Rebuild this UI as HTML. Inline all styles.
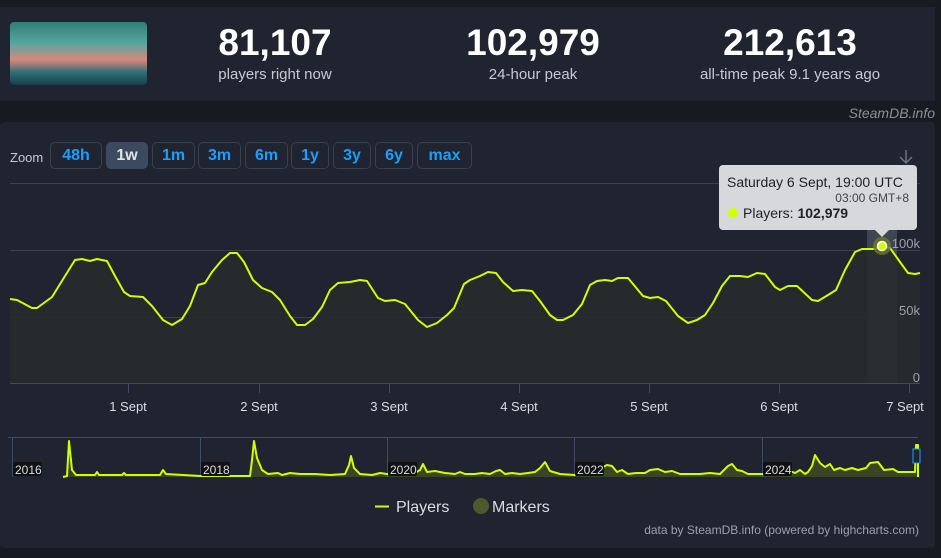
<!DOCTYPE html>
<html><head><meta charset="utf-8"><style>
body{margin:0;width:941px;height:558px;background:#171a21;font-family:"Liberation Sans",sans-serif;overflow:hidden;position:relative}
.p1{position:absolute;left:0;top:7px;width:935px;height:94px;background:#1f2430}
.img{position:absolute;left:10px;top:22px;width:137px;height:63px;border-radius:4px;background:linear-gradient(180deg,#2e7f78 0%,#5aa7a0 35%,#d9877a 60%,#2d6e77 80%,#1b3c4a 100%)}
.stat{position:absolute;top:22px;text-align:center;color:#fff}
.stat b{display:block;font-size:37px;font-weight:bold;letter-spacing:0}
.stat span{display:block;font-size:15px;color:#c6cad3;margin-top:2px}
.sdb{position:absolute;right:6px;top:105px;color:#8a919c;font-style:italic;font-size:14px}
.p2{position:absolute;left:0;top:122px;width:935px;height:426px;background:#1f2430;border-radius:4px}
.zoom{position:absolute;left:10px;top:150px;color:#c6cad3;font-size:13px}
.btn{position:absolute;top:142px;height:27px;border:1px solid #36404f;border-radius:5px;box-sizing:border-box;color:#1a9fff;font-weight:bold;font-size:16px;text-align:center;line-height:25px}
</style></head><body>
<div class="p1"></div>
<div class="img"></div>
<div class="stat" style="left:175px;width:200px"><b>81,107</b><span>players right now</span></div>
<div class="stat" style="left:433px;width:200px"><b>102,979</b><span>24-hour peak</span></div>
<div class="stat" style="left:690px;width:200px"><b>212,613</b><span>all-time peak 9.1 years ago</span></div>
<div class="sdb">SteamDB.info</div>
<div class="p2"></div>
<div class="zoom">Zoom</div>
<div class="btn" style="left:50px;width:52px">48h</div>
<div class="btn" style="left:106px;width:42px;background:#3b4a5e;border-color:#3b4a5e;color:#dfe3ea">1w</div>
<div class="btn" style="left:152px;width:43px">1m</div>
<div class="btn" style="left:198px;width:43px">3m</div>
<div class="btn" style="left:245px;width:43px">6m</div>
<div class="btn" style="left:291px;width:38px">1y</div>
<div class="btn" style="left:333px;width:38px">3y</div>
<div class="btn" style="left:375px;width:38px">6y</div>
<div class="btn" style="left:417px;width:55px">max</div>
<svg width="941" height="558" style="position:absolute;left:0;top:0" font-family="Liberation Sans, sans-serif">
<g stroke="#3a4150" stroke-width="1">
<line x1="10" x2="920" y1="183.5" y2="183.5"/><line x1="10" x2="920" y1="250.5" y2="250.5"/><line x1="10" x2="920" y1="317.5" y2="317.5"/>
</g>
<line x1="10" x2="920" y1="383.5" y2="383.5" stroke="#3d4d66"/>
<g stroke="#3d4d66"><line x1="128.5" x2="128.5" y1="384" y2="393"/><line x1="259.5" x2="259.5" y1="384" y2="393"/><line x1="389.5" x2="389.5" y1="384" y2="393"/><line x1="519.5" x2="519.5" y1="384" y2="393"/><line x1="649.5" x2="649.5" y1="384" y2="393"/><line x1="779.5" x2="779.5" y1="384" y2="393"/><line x1="909.5" x2="909.5" y1="384" y2="393"/></g>
<rect x="867" y="183" width="30" height="200" fill="#4a5260" opacity="0.75"/>
<polygon fill="#262b2e" points="10,383 10,299 17,300 32,308 37,308 52,297 65,276 75,260 82,259 90,261 97,259 107,261 115,276 124,292 130,296 143,297 152,306 163,320 172,325 182,319 190,306 198,285 205,283 212,272 222,260 230,253 237,253 244,262 253,280 262,288 272,292 280,300 290,316 297,325 305,325 313,319 322,307 330,290 338,283 350,282 360,280 367,281 378,298 385,301 395,300 405,304 418,320 427,327 437,323 447,315 454,308 464,284 470,280 480,276 488,272 496,273 503,282 513,291 522,290 532,291 540,301 550,315 557,320 563,320 573,315 582,304 590,285 597,281 605,280 612,281 618,278 628,278 643,296 650,298 658,297 666,301 678,316 688,323 697,320 705,315 713,303 722,286 730,276 740,276 748,277 757,273 765,274 775,287 780,290 788,286 797,286 812,300 818,301 828,295 836,290 845,270 855,252 862,249 875,249 882,246 890,248 900,262 908,273 915,274 920,273 920,383" opacity="0.9"/>
<polyline fill="none" stroke="#cfff00" stroke-width="2" stroke-linejoin="round" points="10,299 17,300 32,308 37,308 52,297 65,276 75,260 82,259 90,261 97,259 107,261 115,276 124,292 130,296 143,297 152,306 163,320 172,325 182,319 190,306 198,285 205,283 212,272 222,260 230,253 237,253 244,262 253,280 262,288 272,292 280,300 290,316 297,325 305,325 313,319 322,307 330,290 338,283 350,282 360,280 367,281 378,298 385,301 395,300 405,304 418,320 427,327 437,323 447,315 454,308 464,284 470,280 480,276 488,272 496,273 503,282 513,291 522,290 532,291 540,301 550,315 557,320 563,320 573,315 582,304 590,285 597,281 605,280 612,281 618,278 628,278 643,296 650,298 658,297 666,301 678,316 688,323 697,320 705,315 713,303 722,286 730,276 740,276 748,277 757,273 765,274 775,287 780,290 788,286 797,286 812,300 818,301 828,295 836,290 845,270 855,252 862,249 875,249 882,246 890,248 900,262 908,273 915,274 920,273"/>
<circle cx="882" cy="246" r="9" fill="#6b7a2a" opacity="0.8"/>
<circle cx="882" cy="246" r="4.5" fill="#cfff00" stroke="#fff" stroke-width="1.5"/>
<g fill="#9aa1ac" font-size="13" text-anchor="end"><text x="920" y="248">100k</text><text x="920" y="315">50k</text><text x="920" y="382">0</text></g>
<g fill="#d8dce3" font-size="13" text-anchor="middle"><text x="128" y="411">1 Sept</text><text x="259" y="411">2 Sept</text><text x="389" y="411">3 Sept</text><text x="519" y="411">4 Sept</text><text x="649" y="411">5 Sept</text><text x="779" y="411">6 Sept</text><text x="905" y="411">7 Sept</text></g>
<path d="M906 150v13M900 157l6 6 6-6" stroke="#6b7280" stroke-width="1.5" fill="none"/>
<rect x="719" y="165" width="198" height="65" rx="4" fill="#d6d8db"/>
<polygon points="875,230 889,230 882,237" fill="#d6d8db"/>
<text x="727" y="187" font-size="14" fill="#222">Saturday 6 Sept, 19:00 UTC</text>
<text x="909" y="202" font-size="12" fill="#444" text-anchor="end">03:00 GMT+8</text>
<circle cx="733" cy="213" r="5" fill="#cfff00"/>
<text x="743" y="218" font-size="14" fill="#222">Players: <tspan font-weight="bold">102,979</tspan></text>
<line x1="8" x2="918" y1="437.5" y2="437.5" stroke="#3d4d66"/>
<g stroke="#3d4d66"><line x1="12.5" x2="12.5" y1="437" y2="477"/><line x1="200.5" x2="200.5" y1="437" y2="477"/><line x1="387.5" x2="387.5" y1="437" y2="477"/><line x1="574.5" x2="574.5" y1="437" y2="477"/><line x1="762.5" x2="762.5" y1="437" y2="477"/></g>
<polyline fill="rgba(180,220,0,0.18)" stroke="#cfff00" stroke-width="2" stroke-linejoin="round" points="63,477 67,476 69,441 72,470 76,475 95,475 97,472 99,475 122,475 124,473 126,475 160,475 163,470 166,474 200,476 250,476 252,460 254,441 257,458 262,470 268,474 278,473 282,475 290,473 300,474 315,474 330,475 345,474 349,465 351,456 354,468 360,474 372,475 380,473 387,474 398,474 402,472 410,473 415,473 420,470 423,464 427,472 435,471 440,472 445,473 455,474 460,472 465,474 475,474 482,473 490,474 496,471 500,470 505,474 512,473 520,474 528,473 535,472 540,468 545,462 550,471 560,474 575,475 580,472 585,470 590,472 597,472 603,467 607,465 612,466 617,472 622,470 628,474 636,473 645,473 650,470 658,469 665,472 672,471 680,474 690,474 700,474 710,473 720,474 728,466 732,464 737,470 742,471 748,474 762,474 768,474 775,474 780,471 785,470 790,471 795,473 800,470 805,474 808,472 812,466 815,455 820,463 825,467 830,464 834,470 840,468 845,470 852,468 858,470 866,468 870,463 878,462 884,470 893,469 898,472 905,472 915,472 916,445 918,445 918,477"/>
<rect x="913" y="449" width="7" height="14" fill="#1f2430" stroke="#1a9fff"/>
<g font-size="12" fill="#d8dce3"><rect x="13" y="462" width="29" height="14" fill="#111" rx="2"/><text x="15" y="474">2016</text>
<rect x="201" y="462" width="29" height="14" fill="#111" rx="2"/><text x="203" y="474">2018</text>
<rect x="388" y="462" width="29" height="14" fill="#111" rx="2"/><text x="390" y="474">2020</text>
<rect x="575" y="462" width="29" height="14" fill="#111" rx="2"/><text x="577" y="474">2022</text>
<rect x="763" y="462" width="29" height="14" fill="#111" rx="2"/><text x="765" y="474">2024</text></g>
<line x1="375" x2="389" y1="506.5" y2="506.5" stroke="#cfff00" stroke-width="2"/>
<text x="396" y="512" font-size="16" fill="#d8dce3">Players</text>
<circle cx="481" cy="506" r="8" fill="#4a5a2a"/>
<text x="492" y="512" font-size="16" fill="#d8dce3">Markers</text>
<text x="919" y="534" font-size="12" fill="#9aa1ac" text-anchor="end">data by SteamDB.info (powered by highcharts.com)</text>
</svg>
</body></html>
